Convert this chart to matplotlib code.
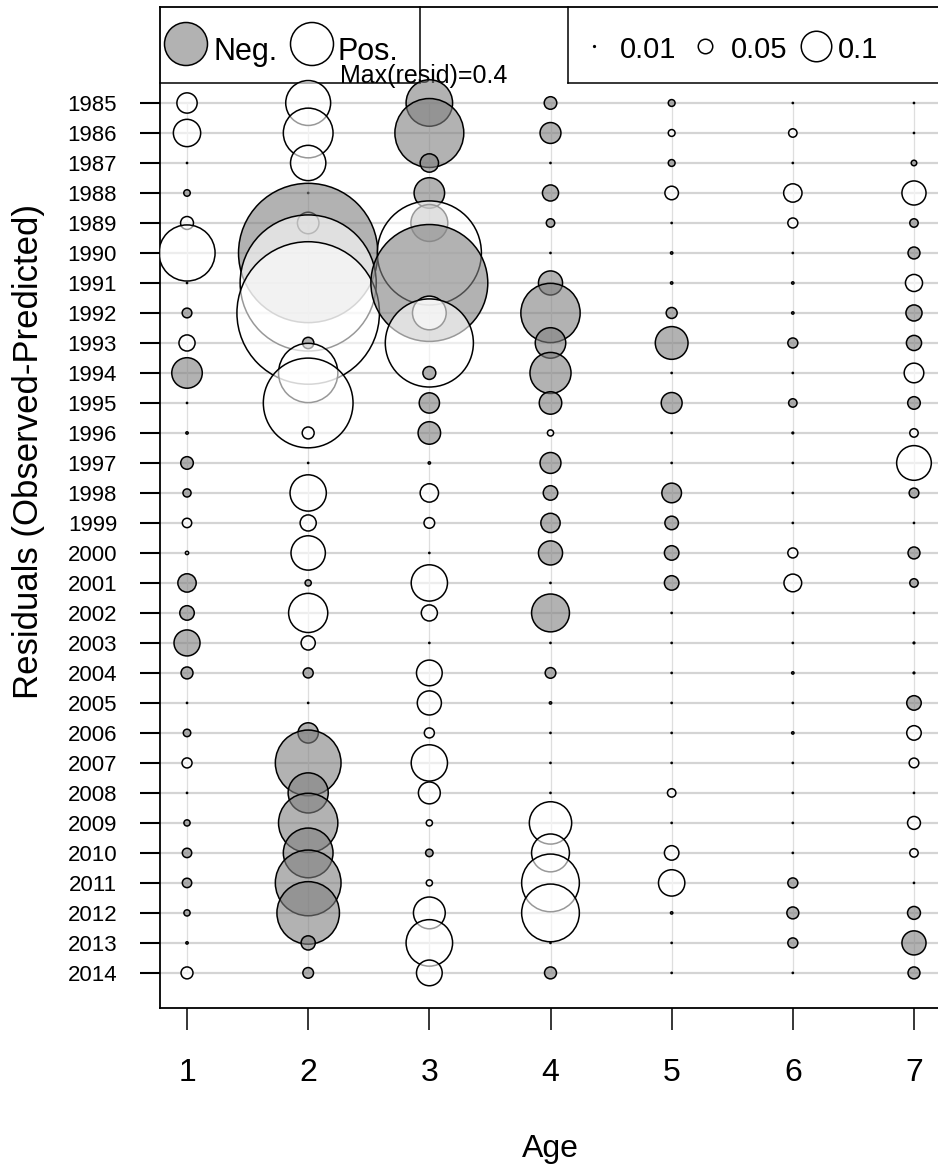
import matplotlib.pyplot as plt
from matplotlib.lines import Line2D

plt.rcParams['font.family'] = ['Liberation Sans', 'DejaVu Sans']

years = list(range(1985, 2015))
ages = [1, 2, 3, 4, 5, 6, 7]

# residuals (observed - predicted) by age, years 1985..2014
age1 = [0.068, 0.09, -0.005, -0.025, 0.045, 0.18, -0.005, -0.035, 0.055, -0.10,
        -0.005, -0.012, -0.044, -0.03, 0.034, 0.015, -0.062, -0.05, -0.086, -0.042,
        -0.005, -0.028, 0.036, -0.005, -0.024, -0.034, -0.034, -0.024, -0.012, 0.042]
age2 = [0.145, 0.16, 0.115, -0.005, 0.072, -0.44, 0.43, 0.45, -0.04, 0.19,
        0.285, 0.042, 0.006, 0.118, 0.055, 0.112, -0.024, 0.127, 0.049, -0.036,
        -0.005, -0.068, -0.21, -0.13, -0.19, -0.16, -0.21, -0.2, -0.049, -0.038]
age3 = [-0.15, -0.22, -0.062, -0.10, -0.12, 0.33, -0.37, 0.11, 0.28, -0.045,
        -0.068, -0.075, -0.012, 0.062, 0.038, -0.006, 0.118, 0.055, -0.006, 0.085,
        0.08, 0.036, 0.118, 0.073, 0.024, -0.028, 0.024, 0.104, 0.15, 0.085]
age4 = [-0.044, -0.07, -0.006, -0.055, -0.031, -0.006, -0.08, -0.19, -0.1, -0.133,
        -0.075, 0.024, -0.07, -0.05, -0.065, -0.08, -0.006, -0.123, -0.006, -0.038,
        -0.012, -0.006, -0.006, -0.006, 0.137, 0.123, 0.185, 0.185, 0.005, -0.042]
age5 = [-0.026, 0.026, -0.026, 0.047, -0.005, -0.012, -0.012, -0.039, -0.107, -0.005,
        -0.07, -0.005, -0.005, -0.066, -0.047, -0.05, -0.05, -0.005, -0.005, -0.005,
        -0.005, -0.005, -0.005, 0.031, -0.005, 0.05, 0.087, -0.012, -0.005, -0.005]
age6 = [-0.005, 0.031, -0.005, 0.062, 0.036, -0.005, -0.012, -0.012, -0.036, -0.005,
        -0.031, -0.01, -0.005, -0.005, -0.005, 0.036, 0.06, -0.005, -0.005, -0.012,
        -0.005, -0.012, -0.005, -0.005, -0.005, -0.005, -0.036, -0.042, -0.036, -0.005]
age7 = [-0.005, -0.005, -0.022, 0.08, -0.031, -0.042, 0.058, -0.055, -0.052, 0.066,
        -0.044, 0.031, 0.113, -0.035, -0.005, -0.042, -0.031, -0.005, -0.01, -0.01,
        -0.05, 0.05, 0.035, -0.005, 0.045, 0.031, -0.005, -0.045, -0.08, -0.042]
resid = [age1, age2, age3, age4, age5, age6, age7]

legend_sizes = [0.01, 0.05, 0.1]
max_resid = 0.4

W, H = 938, 1165
fig = plt.figure(figsize=(W / 100, H / 100), dpi=100)


def fx(px):
    return px / W


def fy(py):
    return 1 - py / H


def msize(r):
    # bubble diameter grows linearly with |resid|
    d = max(320 * abs(r) - 1.5, 1.2)
    return (d * 0.72) ** 2


NEG = (0.5, 0.5, 0.5, 0.6)
POS = (1, 1, 1, 0.6)

xl = (0.777, 7.256)
ax = fig.add_axes([fx(160), fy(1008), fx(945) - fx(160), fy(7) - fy(1008)])
ax.set_xlim(*xl)
ax.set_ylim(2015.17, 1981.8)

# grid
ax.hlines(years, xl[0], xl[1], color='#d4d4d4', lw=1.6, zorder=1)
ax.vlines(ages, 1985, 2014, color='#dedede', lw=0.9, zorder=1)

# bubbles, drawn year by year inside each age
for a, col in zip(ages, resid):
    ax.scatter([a] * len(years), years, s=[msize(r) for r in col],
               c=[NEG if r < 0 else POS for r in col],
               edgecolors='black', linewidths=1.1, zorder=3)

# axes styling
ax.set_yticks(years)
ax.set_yticklabels([str(y) for y in years])
ax.set_xticks(ages)
ax.set_xticklabels([str(a) for a in ages])
ax.tick_params(axis='y', length=14.4, width=1.5, pad=16.5, labelsize=16)
ax.tick_params(axis='x', length=15.8, width=1.1, pad=20, labelsize=23)
for sp in ['left', 'bottom', 'top']:
    ax.spines[sp].set_linewidth(1.3)
ax.spines['right'].set_visible(False)

fig.text(fx(38), fy(452), 'Residuals (Observed-Predicted)', rotation=90,
         rotation_mode='anchor', ha='center', va='baseline', fontsize=25)
fig.text(fx(550), fy(1157), 'Age', ha='center', va='baseline', fontsize=23)

# legend boxes
tf = fig.transFigure
for xs, ys in [([420, 420], [7, 83]), ([160, 420], [83, 83]),
               ([568, 568], [7, 83]), ([568, 945], [83, 83])]:
    ax.add_line(Line2D([fx(x) for x in xs], [fy(y) for y in ys], transform=tf,
                       color='black', lw=1.1, clip_on=False, zorder=2))

ax.scatter([fx(186), fx(312)], [fy(44), fy(44)], s=[(43 * 0.72) ** 2] * 2,
           c=[NEG, POS], edgecolors='black', linewidths=1.1, transform=tf,
           clip_on=False, zorder=2)
ax.text(fx(213), fy(60), 'Neg.', transform=tf, fontsize=22, va='baseline', zorder=2)
ax.text(fx(338), fy(60), 'Pos.', transform=tf, fontsize=22, va='baseline', zorder=2)
ax.text(fx(340), fy(83), 'Max(resid)=%.1f' % max_resid, transform=tf,
        fontsize=18, va='baseline', zorder=2)

leg_x = [594, 705, 816]
txt_x = [620, 731, 838]
for v, x0, x1 in zip(legend_sizes, leg_x, txt_x):
    ax.scatter([fx(x0)], [fy(46)], s=[msize(v)], c=[POS], edgecolors='black',
               linewidths=1.1, transform=tf, clip_on=False, zorder=2)
    ax.text(fx(x1), fy(58), str(v), transform=tf, fontsize=21,
            va='baseline', zorder=2)

fig.savefig('out.png', dpi=100)
